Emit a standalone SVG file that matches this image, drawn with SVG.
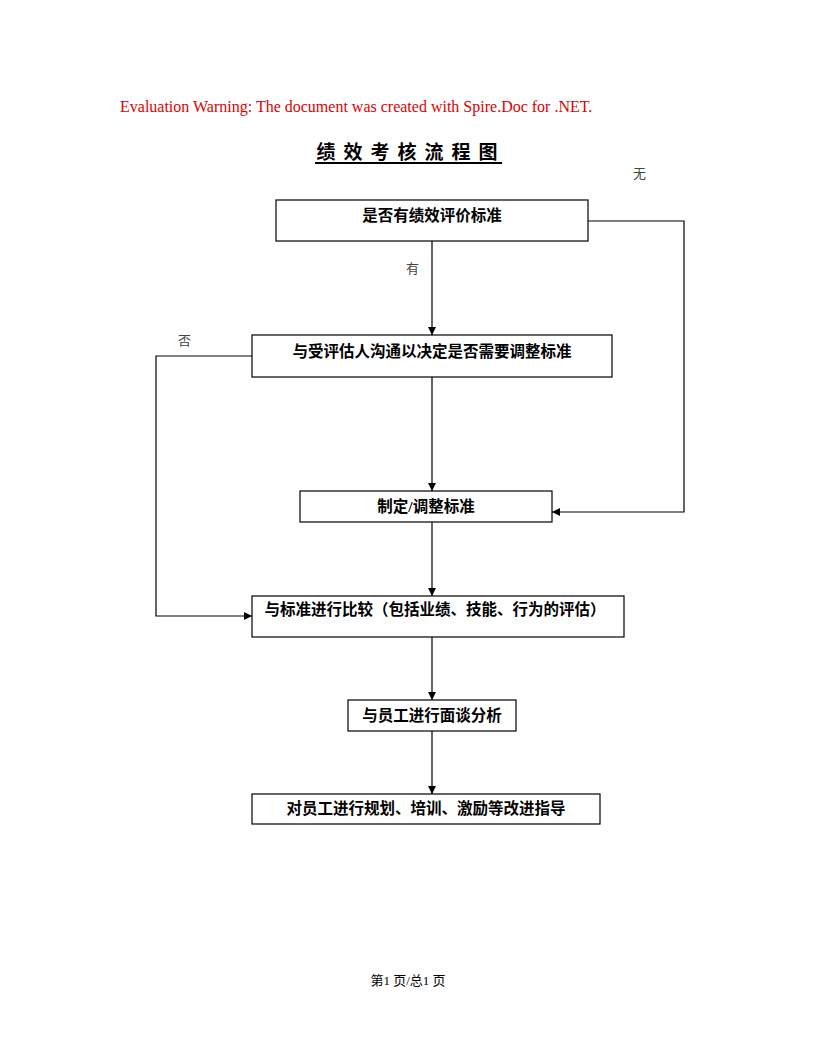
<svg xmlns="http://www.w3.org/2000/svg" width="816" height="1056" viewBox="0 0 816 1056">
<style>
.box{fill:#fff;stroke:#000;stroke-width:1.2}
.bt{font-family:"Liberation Serif","Noto Sans CJK SC",serif;font-size:15.5px;font-weight:bold;text-anchor:middle;fill:#000}
.lbl{font-family:"Liberation Serif","Noto Sans CJK SC",serif;font-size:13px;fill:#444}
.ln{fill:none;stroke:#000;stroke-width:1.2}
</style>
<defs>
<marker id="ah" markerWidth="8" markerHeight="8" refX="8" refY="4" orient="auto" markerUnits="userSpaceOnUse">
<path d="M0,0 L8,4 L0,8 Z" fill="#000"/>
</marker>
</defs>
<rect width="816" height="1056" fill="#fff"/>
<text x="120" y="112" font-family="Liberation Serif, serif" font-size="16" fill="#e00000">Evaluation Warning: The document was created with Spire.Doc for .NET.</text>
<text x="411" y="159" font-family="Liberation Serif, Noto Sans CJK SC, serif" font-size="19" font-weight="bold" text-anchor="middle" letter-spacing="8">绩效考核流程图</text>
<line x1="315" y1="163" x2="502" y2="163" stroke="#000" stroke-width="2"/>
<g id="connectors">
<line class="ln" x1="432" y1="224" x2="432" y2="335" marker-end="url(#ah)"/>
<line class="ln" x1="432" y1="377" x2="432" y2="491" marker-end="url(#ah)"/>
<line class="ln" x1="432" y1="512" x2="432" y2="596" marker-end="url(#ah)"/>
<line class="ln" x1="432" y1="637" x2="432" y2="700" marker-end="url(#ah)"/>
<line class="ln" x1="432" y1="731" x2="432" y2="794" marker-end="url(#ah)"/>
<polyline class="ln" points="588,221 684,221 684,512 552,512" marker-end="url(#ah)"/>
<polyline class="ln" points="252,356 156,356 156,616 252,616" marker-end="url(#ah)"/>
</g>
<text class="lbl" x="406" y="273">有</text>
<text class="lbl" x="178" y="345">否</text>
<text class="lbl" x="633" y="178">无</text>
<g id="n1"><rect class="box" x="276" y="200" width="312" height="41"/><text class="bt" x="432" y="221">是否有绩效评价标准</text></g>
<g id="n2"><rect class="box" x="252" y="335" width="360" height="42"/><text class="bt" x="432" y="357">与受评估人沟通以决定是否需要调整标准</text></g>
<g id="n3"><rect class="box" x="300" y="491" width="252" height="31"/><text class="bt" x="426" y="512">制定/调整标准</text></g>
<g id="n4"><rect class="box" x="252" y="596" width="372" height="41"/><text class="bt" x="435" y="615">与标准进行比较（包括业绩、技能、行为的评估）</text></g>
<g id="n5"><rect class="box" x="348" y="700" width="168" height="31"/><text class="bt" x="432" y="721">与员工进行面谈分析</text></g>
<g id="n6"><rect class="box" x="252" y="794" width="348" height="30"/><text class="bt" x="426" y="814">对员工进行规划、培训、激励等改进指导</text></g>
<text x="408" y="985" font-family="Liberation Serif, Noto Sans CJK SC, serif" font-size="13" text-anchor="middle">第1 页/总1 页</text>
</svg>
